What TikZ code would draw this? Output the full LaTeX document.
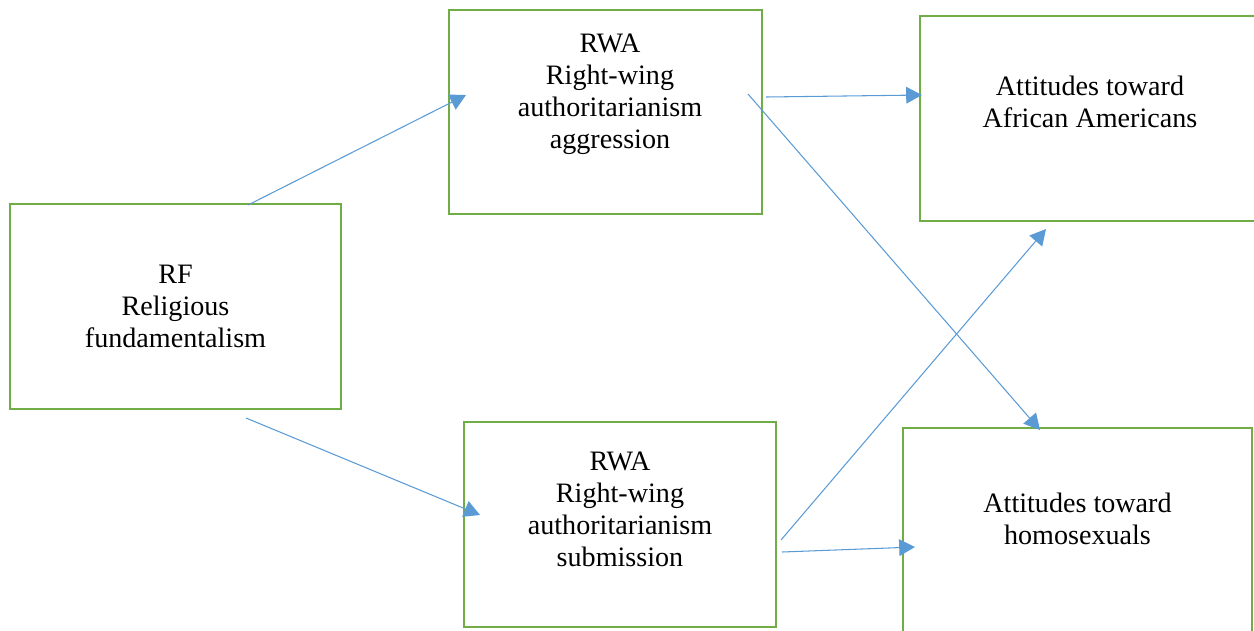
\documentclass[tikz,border=0pt]{standalone}
\usepackage{fontspec}
\setmainfont{Liberation Serif}
\usetikzlibrary{arrows.meta}
\definecolor{boxgreen}{RGB}{112,173,71}
\definecolor{arrblue}{RGB}{91,155,213}
\begin{document}
\begin{tikzpicture}[
  font=\fontsize{16}{18.2}\selectfont,
  box/.style={draw=boxgreen, line width=1.4pt, minimum height=4.1cm, inner sep=0pt},
  txt/.style={align=center, inner sep=0pt},
  arr/.style={draw=arrblue, line width=0.6pt, -{Triangle[length=9pt, width=9.5pt]}}
]
\useasboundingbox (0,0) rectangle (25.08,-12.6);
% boxes
\node[box, minimum width=6.62cm] (rf) at (3.51,-6.13) {};
\node[txt] (rftxt) at (rf.center) {RF\\Religious\\fundamentalism};
\node[box, minimum width=6.26cm, minimum height=4.08cm] (agg) at (12.11,-2.24) {};
\node[txt] (aggtxt) at ([xshift=0.09cm, yshift=0.36cm]agg.center) {RWA\\Right-wing\\authoritarianism\\aggression};
\node[box, minimum width=6.24cm] (sub) at (12.4,-10.49) {};
\node[txt] (subtxt) at ([yshift=0.31cm]sub.center) {RWA\\Right-wing\\authoritarianism\\submission};
\node[box, minimum width=6.8cm] (afr) at (21.8,-2.37) {};
\node[txt] (afrtxt) at ([yshift=0.33cm]afr.center) {Attitudes toward\\African Americans};
\node[box, minimum width=6.98cm] (hom) at (21.55,-10.61) {};
\node[txt] (homtxt) at ([yshift=0.23cm]hom.center) {Attitudes toward\\homosexuals};
% arrow ends
\coordinate (rf-up) at (4.96,-4.10);
\coordinate (agg-in) at (9.32,-1.90);
\coordinate (rf-down) at (4.92,-8.36);
\coordinate (sub-in) at (9.60,-10.30);
\coordinate (agg-out1) at (15.32,-1.94);
\coordinate (afr-in) at (18.44,-1.90);
\coordinate (agg-out2) at (14.96,-1.88);
\coordinate (hom-top) at (20.80,-8.60);
\coordinate (sub-out1) at (15.62,-10.80);
\coordinate (afr-bot) at (20.92,-4.58);
\coordinate (sub-out2) at (15.64,-11.04);
\coordinate (hom-in) at (18.30,-10.94);
% arrows
\draw[arr] (rf-up) -- (agg-in);
\draw[arr] (rf-down) -- (sub-in);
\draw[arr] (agg-out1) -- (afr-in);
\draw[arr] (agg-out2) -- (hom-top);
\draw[arr] (sub-out1) -- (afr-bot);
\draw[arr] (sub-out2) -- (hom-in);
\end{tikzpicture}
\end{document}
